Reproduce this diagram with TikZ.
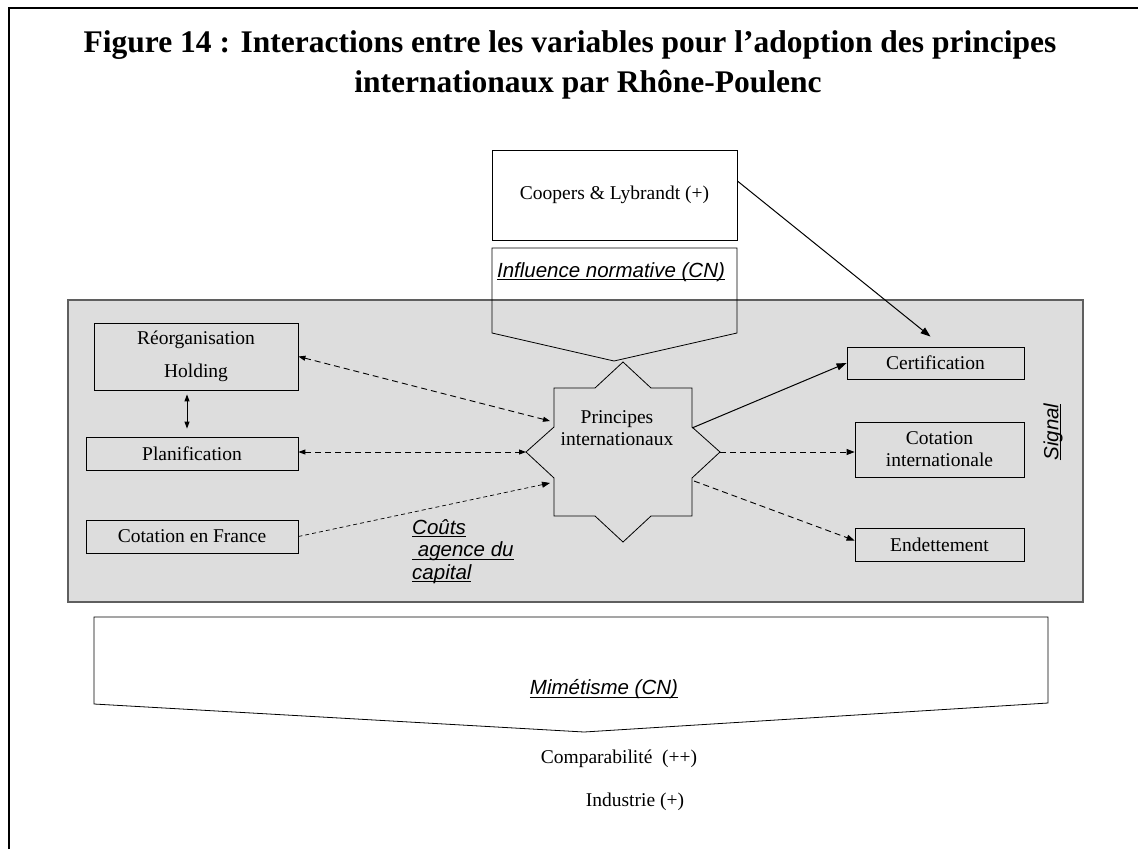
\documentclass[tikz,border=0pt]{standalone}
\usepackage{fontspec}
\setmainfont{Liberation Serif}
\newfontfamily\arialfam{Liberation Sans}
\usetikzlibrary{arrows.meta}
\definecolor{panel}{RGB}{221,221,221}
\definecolor{panelline}{RGB}{95,95,95}
\newcommand\mybody{\fontsize{19.5}{22}\selectfont}
\newcommand\mylab{\arialfam\itshape\fontsize{20.5}{22.5}\selectfont}
\newcommand\mytitle{\bfseries\fontsize{31.5}{36}\selectfont}
\newsavebox\ulbox
\newcommand\myul[1]{\sbox\ulbox{#1}\rlap{\rule[-3pt]{\wd\ulbox}{0.9pt}}\usebox\ulbox}
\tikzset{
  box/.style={draw, line width=0.8pt, inner sep=0pt, align=center, font=\mybody},
  plain/.style={inner sep=0pt, font=\mybody},
  lab/.style={inner sep=0pt, font=\mylab},
  shapeline/.style={draw, line width=0.8pt},
  dsh/.style={dash pattern=on 6pt off 4pt, line width=0.9pt},
  fine/.style={dash pattern=on 4pt off 3pt, line width=0.7pt},
  bigtip/.style={-{Triangle[length=10pt,width=7pt]}, line width=1pt},
  smalltip/.style={{Triangle[length=7pt,width=5pt]}-{Triangle[length=7pt,width=5pt]}},
  onetip/.style={-{Triangle[length=8pt,width=6pt]}},
}
\begin{document}
\begin{tikzpicture}[x=1pt,y=-1pt]
\useasboundingbox (0,0) rectangle (1138,849);
% frame
\draw[line width=2.5pt] (9,849) -- (9,8) -- (1138,8);
% title
\node[inner sep=0pt, font=\mytitle] (t1) at (570,45) {Figure 14 : Interactions entre les variables pour l’adoption des principes};
\node[inner sep=0pt, font=\mytitle] (t2) at (588,85) {internationaux par Rhône-Poulenc};
% panel
\draw[fill=panel, draw=panelline, line width=1.3pt] (68,300) rectangle (1083,602);
% Coopers
\node[box, minimum width=245pt, minimum height=90pt] (coop) at (614.5,195) {Coopers \& Lybrandt (+)};
% influence normative pentagon
\draw[shapeline] (492,248) -- (737,248) -- (737,333) -- (614,361) -- (492,333) -- cycle;
\node[lab] (infl) at (611,272) {\myul{Influence normative (CN)}};
% star
\draw[shapeline] (554,388) -- (595,388) -- (623,362) -- (651,388) -- (692,388) -- (692,427) -- (720,452) -- (692,478) -- (692,516) -- (651,516) -- (623,542) -- (595,516) -- (554,516) -- (554,478) -- (526,452) -- (554,427) -- cycle;
\node[plain, align=center] (prin) at (617,428) {Principes\\internationaux};
\coordinate (sL) at (526,452);
\coordinate (sR) at (720,452);
\coordinate (sUR) at (692,428);
\coordinate (sLR) at (694,481);
\coordinate (sUL) at (550,421);
\coordinate (sLL) at (550,483);
% left boxes
\node[box, minimum width=204pt, minimum height=67pt, font=\fontsize{19.5}{33}\selectfont] (reorg) at (196,356.5) {Réorganisation\\Holding};
\node[box, minimum width=212pt, minimum height=33pt] (plan) at (192,453.5) {Planification};
\node[box, minimum width=212pt, minimum height=33pt] (cotfr) at (192,536.5) {Cotation en France};
% right boxes
\node[box, minimum width=177pt, minimum height=32pt] (cert) at (935.5,363) {Certification};
\node[box, minimum width=169pt, minimum height=55pt] (cotint) at (939.5,449.5) {Cotation\\internationale};
\node[box, minimum width=169pt, minimum height=33pt] (endet) at (939.5,544.5) {Endettement};
% labels
\node[lab, rotate=90] (signal) at (1053,432) {\myul{Signal}};
\node[lab, align=left, anchor=north west] (couts) at (412,519) {\myul{Coûts}\\\myul{\ agence du}\\\myul{capital}};
% mimetisme
\draw[shapeline] (94,617) -- (1048,617) -- (1048,703) -- (584,732) -- (94,704) -- cycle;
\node[lab] (mim) at (604,689) {\myul{Mimétisme (CN)}};
\node[plain] (comp) at (619,759) {Comparabilité\ \ (++)};
\node[plain] (indu) at (635,802) {Industrie (+)};
% connectors
\draw[bigtip] ([yshift=14pt]coop.east) -- ([xshift=-5pt,yshift=10pt]cert.north);
\draw[bigtip] (sUR) -- (cert.west);
\draw[dsh, onetip] (sR) -- (sR -| cotint.west);
\draw[dsh, onetip] (sLR) -- ([yshift=4pt]endet.west);
\draw[dsh, smalltip] (reorg.east) -- (sUL);
\draw[dsh, smalltip] (plan.east |- sL) -- (sL);
\draw[fine, onetip] (cotfr.east) -- (sLL);
\draw[line width=1pt, smalltip] ([xshift=-9pt,yshift=-4pt]reorg.south) -- ([xshift=-5pt,yshift=8pt]plan.north);
\end{tikzpicture}
\end{document}
